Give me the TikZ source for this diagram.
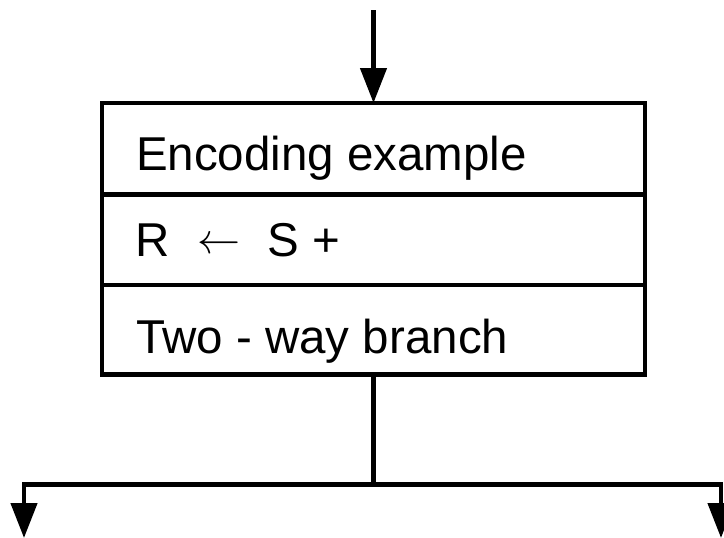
\documentclass[tikz,border=0pt]{standalone}
\usepackage{fontspec}
\setmainfont{Liberation Sans}
\usetikzlibrary{arrows.meta}
\begin{document}
\begin{tikzpicture}[x=1pt,y=-1pt,
    line width=4.5pt,
    rowbox/.style={draw, rectangle, minimum width=543pt, inner sep=0pt, outer sep=0pt},
    label/.style={anchor=base west, inner sep=0pt, outer sep=0pt, font=\fontsize{47.5}{57}\selectfont},
    flow/.style={-{Triangle[length=35pt,width=26pt]}}]
  \useasboundingbox (0,0) rectangle (724,538);

  % the three stacked rows of the block
  \node[rowbox, minimum height=91.5pt] (row1) at (373.5,148.75) {};
  \node[rowbox, minimum height=90.5pt] (row2) at (373.5,239.75) {};
  \node[rowbox, minimum height=89.5pt] (row3) at (373.5,329.75) {};

  % row texts
  \node[label] (t1) at (136,170) {Encoding example};
  \node[label] (t2r) at (135,256) {R};
  \node[anchor=base, inner sep=0pt] (t2a) at (218.5,253) {\scalebox{4.3}{$\leftarrow$}};
  \node[label] (t2s) at (267,256) {S};
  \node[label] (t2p) at (312,256) {+};
  \node[label] (t3) at (136,353) {Two - way branch};

  % incoming flow
  \coordinate (in) at (373.5,10);
  \draw[flow] (in) -- (row1.north);

  % two-way split below the block
  \coordinate (split) at (373.5,484.5);
  \coordinate (outL) at (24,538);
  \coordinate (outR) at (721,538);
  \draw (row3.south) -- (split);
  \draw[flow] (split) -| (outL);
  \draw[flow] (split) -| (outR);
\end{tikzpicture}
\end{document}
